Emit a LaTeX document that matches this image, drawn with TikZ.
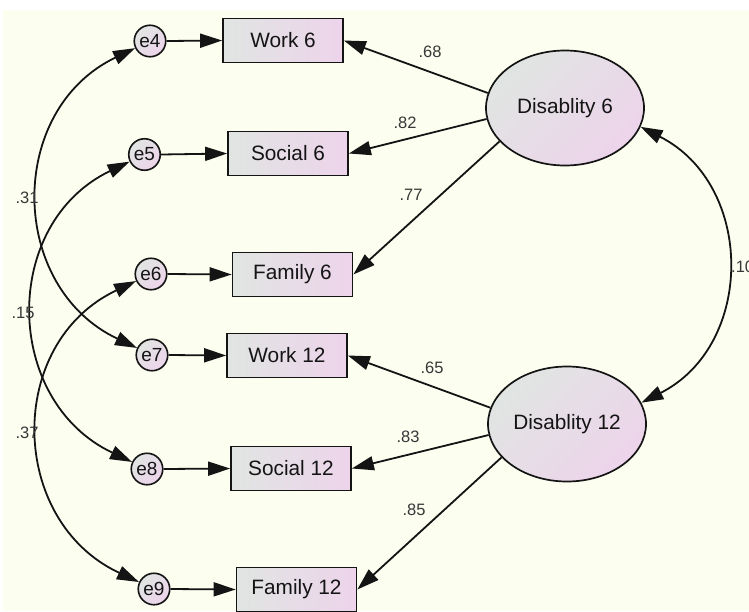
\documentclass[tikz,border=0pt]{standalone}
\usepackage{fontspec}
\setmainfont{Liberation Sans}
\usetikzlibrary{arrows.meta,shapes.geometric}
\definecolor{bgivory}{RGB}{252,254,240}
\definecolor{gleft}{RGB}{224,229,226}
\definecolor{pright}{RGB}{237,212,235}
\definecolor{inkc}{RGB}{20,20,20}
\begin{document}
\begin{tikzpicture}[x=1pt,y=-1pt,
  obs/.style={draw=inkc, line width=1.7pt, minimum width=120pt, minimum height=44pt,
    inner sep=0pt, left color=gleft, right color=pright, text=inkc,
    font=\fontsize{20.8}{24}\selectfont},
  err/.style={circle, draw=inkc, line width=1.6pt, minimum size=31.5pt, inner sep=0pt,
    top color=gleft, bottom color=pright, shading angle=45, text=inkc,
    font=\fontsize{19}{22}\selectfont},
  lat/.style={ellipse, draw=inkc, line width=1.7pt, minimum width=158pt, minimum height=115pt,
    inner sep=0pt, top color=gleft, bottom color=pright, shading angle=45, text=inkc,
    font=\fontsize{20.8}{24}\selectfont},
  reg/.style={draw=inkc, line width=1.8pt, -{Triangle[length=22pt,width=14pt]}},
  cov/.style={draw=inkc, line width=1.8pt, {Triangle[length=22pt,width=14pt]}-{Triangle[length=22pt,width=14pt]}},
  coef/.style={inner sep=0pt, text=black!78, font=\fontsize{16.5}{19}\selectfont}
]
\useasboundingbox (0,0) rectangle (749,611);
\fill[white] (0,0) rectangle (749,611);
\fill[bgivory] (3,10) rectangle (749,611);

% observed variables
\node[obs] (W6)  at (283,40.5)  {Work 6};
\node[obs] (S6)  at (288,153.5) {Social 6};
\node[obs] (F6)  at (292.5,274.5) {Family 6};
\node[obs] (W12) at (287,355.5) {Work 12};
\node[obs] (S12) at (291,468.5) {Social 12};
\node[obs] (F12) at (296.5,589.5) {Family 12};

% errors
\node[err] (e4) at (150,41)    {e4};
\node[err] (e5) at (144.5,154.5) {e5};
\node[err] (e6) at (151,274)   {e6};
\node[err] (e7) at (152,355)   {e7};
\node[err] (e8) at (147,469)   {e8};
\node[err] (e9) at (154,589)   {e9};

% latent
\node[lat] (D6)  at (565,108) {Disablity 6};
\node[lat] (D12) at (567,424) {Disablity 12};

% error paths
\draw[reg] (e4.east) -- (W6.west);
\draw[reg] (e5.east) -- (S6.west);
\draw[reg] (e6.east) -- (F6.west);
\draw[reg] (e7.east) -- (W12.west);
\draw[reg] (e8.east) -- (S12.west);
\draw[reg] (e9.east) -- (F12.west);

% loadings
\draw[reg] (D6.169) -- (W6.east);
\draw[reg] (D6.188) -- (S6.east);
\draw[reg] (D6.207) -- (F6.east);
\draw[reg] (D12.168) -- (W12.east);
\draw[reg] (D12.188) -- (S12.east);
\draw[reg] (D12.207) -- (F12.east);

\node[coef] (c68) at (430,52)  {.68};
\node[coef] (c82) at (405,123) {.82};
\node[coef] (c77) at (411,195) {.77};
\node[coef] (c65) at (432,368) {.65};
\node[coef] (c83) at (408,437) {.83};
\node[coef] (c85) at (414,510) {.85};

% covariances
\draw[cov] (e4) .. controls (6,110) and (8,287) .. (e7);
\draw[cov] (e5) .. controls (0.5,223.5) and (3,401) .. (e8);
\draw[cov] (e6) .. controls (5,343) and (8,521) .. (e9);
\draw[cov] (D6.-14) .. controls (755,185) and (755,345) .. (D12.16);

\node[coef] (c31) at (27,198) {.31};
\node[coef] (c15) at (23,313) {.15};
\node[coef] (c37) at (27,433) {.37};
\node[coef, anchor=west] (c10) at (731,267) {.10};
\end{tikzpicture}
\end{document}
